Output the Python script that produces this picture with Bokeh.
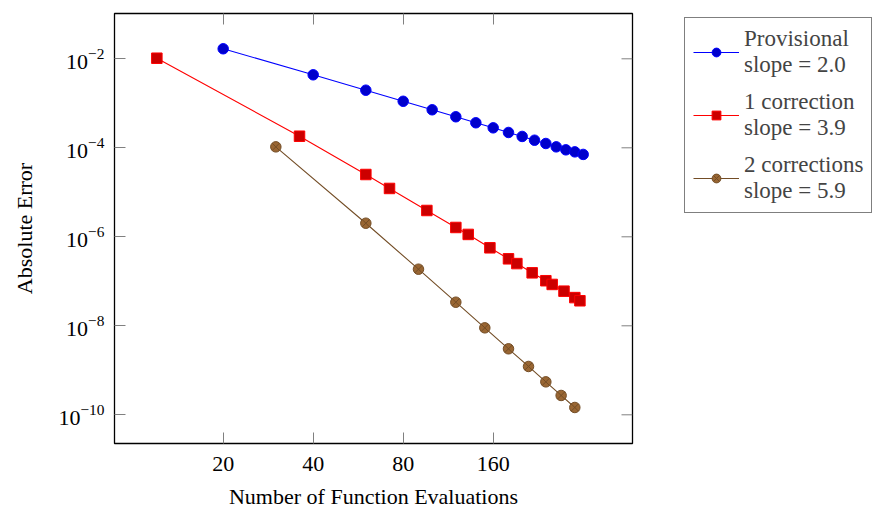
import math
from bokeh.plotting import figure
from bokeh.models import (Range1d, FixedTicker, LogAxis, Legend, LegendItem,
                          CustomJSTickFormatter)
from bokeh.embed import file_html
from bokeh.resources import INLINE

# ---------------- data ----------------
prov_n = [20, 40, 60, 80, 100, 120, 140, 160, 180, 200, 220, 240, 260, 280, 300, 320]
prov_err = [1.68e-2, 4.37e-3, 1.97e-3, 1.11e-3, 7.15e-4, 4.98e-4, 3.65e-4, 2.81e-4,
            2.21e-4, 1.80e-4, 1.48e-4, 1.25e-4, 1.05e-4, 9.0e-5, 8.1e-5, 7.1e-5]

corr1_n = [12, 36, 60, 72, 96, 120, 132, 156, 180, 192, 216, 240, 252, 276, 300, 312]
corr1_err = [1.03e-2, 1.82e-4, 2.51e-5, 1.22e-5, 3.9e-6, 1.62e-6, 1.13e-6, 5.66e-7,
             3.2e-7, 2.5e-7, 1.55e-7, 1.03e-7, 8.5e-8, 6.0e-8, 4.3e-8, 3.65e-8]

corr2_n = [30, 60, 90, 120, 150, 180, 210, 240, 270, 300]
corr2_err = [1.05e-4, 2.02e-6, 1.87e-7, 3.39e-8, 9.0e-9, 3.04e-9, 1.22e-9, 5.5e-10,
             2.72e-10, 1.46e-10]

x_ticks = [20, 40, 80, 160]
y_ticks = [1e-2, 1e-4, 1e-6, 1e-8, 1e-10]

labels = ["Provisional\nslope = 2.0", "1 correction\nslope = 3.9", "2 corrections\nslope = 5.9"]

FONT = "Liberation Serif"

x_range = Range1d(8.66, 467.8)
y_range = Range1d(10**-10.645, 10**-0.982)

p = figure(frame_width=518, frame_height=430, x_axis_type="log", y_axis_type="log",
           x_range=x_range, y_range=y_range,
           output_backend="svg", toolbar_location=None,
           min_border_left=114, min_border_right=241, min_border_top=13, min_border_bottom=67)
p.grid.visible = False
p.outline_line_color = "black"
p.outline_line_width = 1.3
p.background_fill_color = "white"
p.border_fill_color = "white"

# main axes
p.xaxis.ticker = FixedTicker(ticks=x_ticks)
p.xaxis.formatter = CustomJSTickFormatter(code="return tick.toFixed(0)")
p.yaxis.ticker = FixedTicker(ticks=y_ticks)
for ax in (p.xaxis[0], p.yaxis[0]):
    ax.axis_line_color = None
    ax.major_tick_in = 11
    ax.major_tick_out = 0
    ax.major_tick_line_color = "#808080"
    ax.major_tick_line_width = 1
    ax.minor_tick_line_color = None
    ax.major_label_text_font = FONT
    ax.major_label_text_font_size = "22px"
    ax.major_label_text_color = "black"
    ax.axis_label_text_font = FONT
    ax.axis_label_text_font_size = "22px"
    ax.axis_label_text_font_style = "normal"
    ax.axis_label_text_color = "black"
p.xaxis.major_label_standoff = 13
p.yaxis.major_label_standoff = 10
p.xaxis.axis_label = "Number of Function Evaluations"
p.xaxis.axis_label_standoff = 10
p.yaxis.axis_label = "Absolute Error"
p.yaxis.axis_label_standoff = 18

# mirrored tick axis on top
top = LogAxis(ticker=FixedTicker(ticks=x_ticks),
              formatter=CustomJSTickFormatter(code="return ''"))
top.axis_line_color = None
top.major_tick_in = 11
top.major_tick_out = 0
top.major_tick_line_color = "#808080"
top.minor_tick_line_color = None
top.major_label_standoff = 0
top.major_label_text_font_size = "1px"
p.add_layout(top, "above")

# mirrored ticks on the right edge of the frame (pointing inward)
p.ray(x=[x_range.end] * len(y_ticks), y=y_ticks, length=11, length_units="screen",
      angle=math.pi, line_color="#808080", line_width=1)

# series
l1 = p.line(prov_n, prov_err, line_color="#0000FF", line_width=1.1)
s1 = p.scatter(prov_n, prov_err, marker="circle", size=10.5, fill_color="#0000CC",
               line_color="#0000FF", line_width=1)
l2 = p.line(corr1_n, corr1_err, line_color="#FF0000", line_width=1.1)
s2 = p.scatter(corr1_n, corr1_err, marker="square", size=10.5, fill_color="#CC0000",
               line_color="#FF0000", line_width=1)
l3 = p.line(corr2_n, corr2_err, line_color="#734D26", line_width=1.1)
s3 = p.scatter(corr2_n, corr2_err, marker="circle_x", size=10.5, fill_color="#996633",
               line_color="#734D26", line_width=1)

legend = Legend(items=[LegendItem(label=labels[0], renderers=[l1, s1]),
                       LegendItem(label=labels[1], renderers=[l2, s2]),
                       LegendItem(label=labels[2], renderers=[l3, s3])],
                location=(52, 230))
legend.label_text_font = FONT
legend.label_text_font_size = "23px"
legend.label_text_align = "center"
legend.glyph_width = 46
legend.glyph_height = 22
legend.label_standoff = 5
legend.padding = 8
legend.spacing = 11
legend.margin = 0
legend.border_line_color = "black"
legend.border_line_width = 1
legend.background_fill_alpha = 1
p.add_layout(legend, "right")

open("out.html", "w").write(file_html(p, INLINE))
